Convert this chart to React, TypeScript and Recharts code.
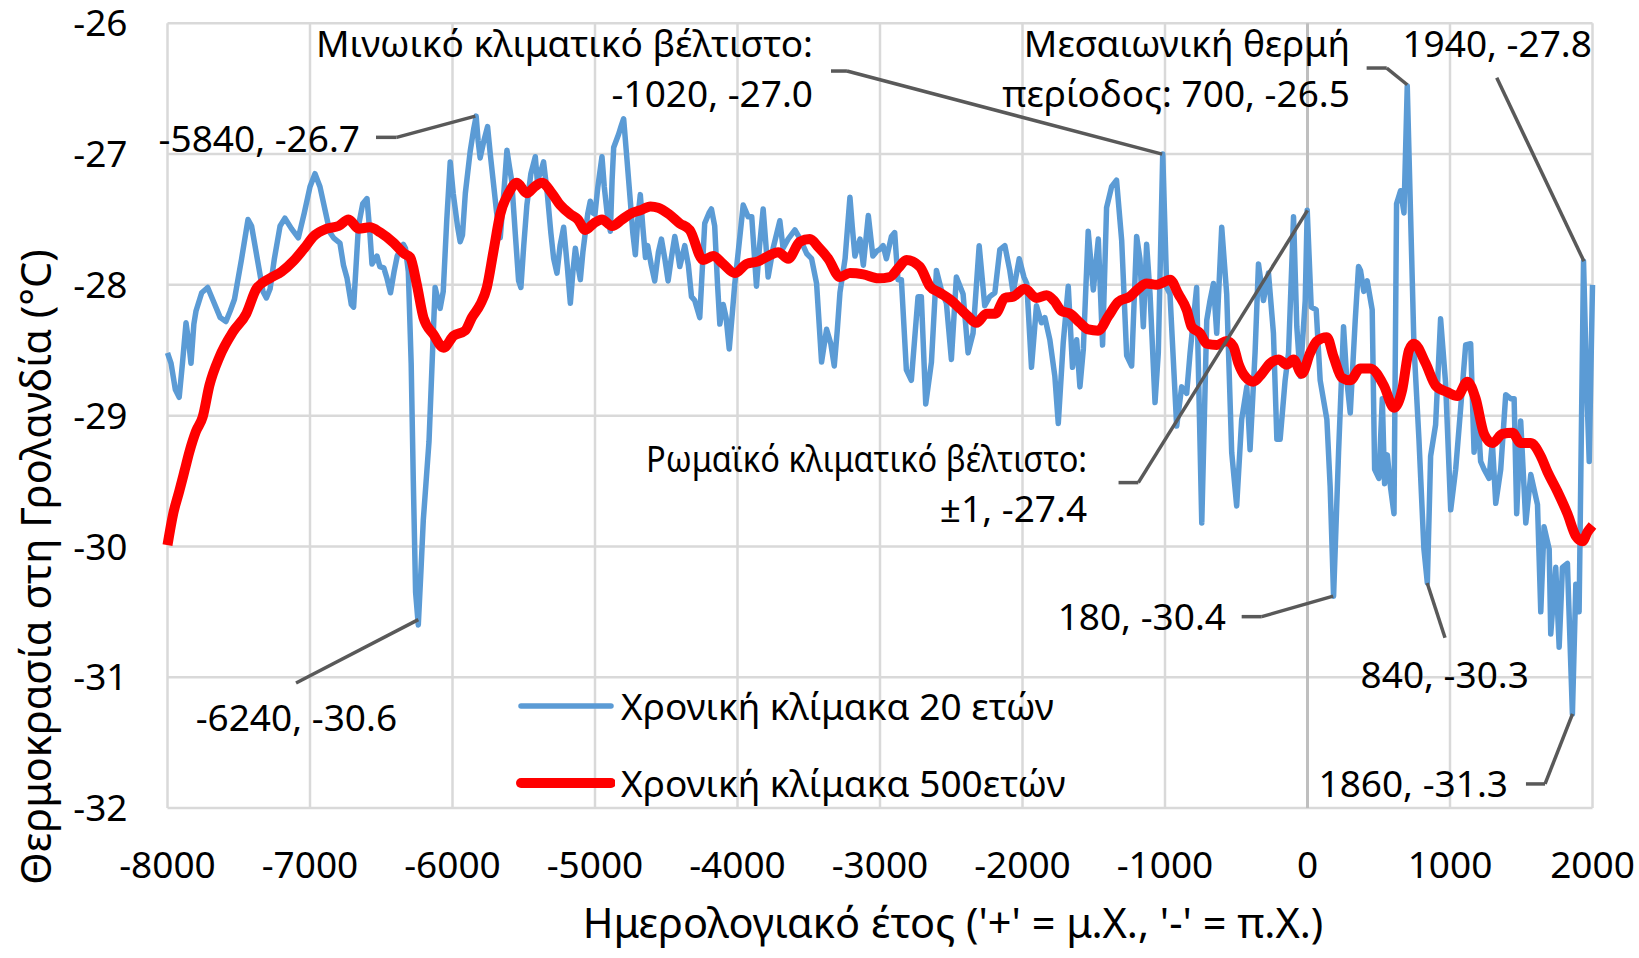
import {
  LineChart,
  Line,
  XAxis,
  YAxis,
  CartesianGrid,
  ReferenceLine,
  ReferenceDot,
  Legend,
} from 'recharts';

const BLUE_20YR: [number, number][] = [
  [-8000, -28.52], [-7975, -28.6], [-7945, -28.8], [-7918, -28.86], [-7895, -28.6], [-7870, -28.29],
  [-7850, -28.45], [-7835, -28.6], [-7815, -28.3], [-7800, -28.2], [-7760, -28.06], [-7718, -28.02],
  [-7680, -28.12], [-7630, -28.25], [-7590, -28.28], [-7560, -28.2], [-7530, -28.11], [-7480, -27.8],
  [-7435, -27.5], [-7410, -27.55], [-7370, -27.8], [-7330, -28.05], [-7306, -28.1], [-7280, -28.03],
  [-7250, -27.8], [-7210, -27.55], [-7176, -27.49], [-7130, -27.57], [-7082, -27.64], [-7040, -27.45],
  [-7000, -27.25], [-6965, -27.15], [-6930, -27.25], [-6890, -27.45], [-6860, -27.6], [-6835, -27.64],
  [-6790, -27.68], [-6765, -27.85], [-6740, -27.95], [-6710, -28.15], [-6694, -28.17], [-6660, -27.55],
  [-6630, -27.38], [-6600, -27.34], [-6580, -27.6], [-6565, -27.84], [-6530, -27.78], [-6510, -27.86],
  [-6482, -27.87], [-6460, -27.95], [-6435, -28.06], [-6410, -27.9], [-6388, -27.78], [-6360, -27.72],
  [-6345, -27.69], [-6330, -27.72], [-6310, -27.9], [-6290, -28.6], [-6275, -29.5], [-6259, -30.35],
  [-6240, -30.6], [-6222, -30.2], [-6205, -29.8], [-6165, -29.2], [-6122, -28.02], [-6105, -28.1],
  [-6087, -28.18], [-6065, -28.05], [-6040, -27.5], [-6016, -27.06], [-5995, -27.3], [-5965, -27.55],
  [-5946, -27.67], [-5930, -27.62], [-5910, -27.3], [-5876, -26.98], [-5850, -26.8], [-5834, -26.71],
  [-5820, -26.9], [-5806, -27.03], [-5780, -26.9], [-5754, -26.79], [-5735, -27.0], [-5712, -27.23],
  [-5690, -27.45], [-5665, -27.64], [-5640, -27.3], [-5618, -26.97], [-5600, -27.1], [-5585, -27.2],
  [-5560, -27.6], [-5536, -27.97], [-5520, -28.02], [-5500, -27.7], [-5478, -27.39], [-5450, -27.15],
  [-5419, -27.02], [-5405, -27.2], [-5385, -27.15], [-5361, -27.06], [-5335, -27.3], [-5310, -27.6],
  [-5290, -27.8], [-5267, -27.91], [-5245, -27.7], [-5220, -27.56], [-5195, -27.85], [-5173, -28.14],
  [-5155, -27.9], [-5138, -27.72], [-5120, -27.85], [-5103, -27.96], [-5085, -27.75], [-5068, -27.6],
  [-5050, -27.45], [-5033, -27.36], [-5015, -27.45], [-5000, -27.46], [-4980, -27.25], [-4951, -27.02],
  [-4935, -27.25], [-4915, -27.45], [-4892, -27.59], [-4880, -27.2], [-4869, -26.95], [-4835, -26.85],
  [-4815, -26.78], [-4799, -26.73], [-4775, -27.05], [-4752, -27.36], [-4735, -27.6], [-4717, -27.77],
  [-4700, -27.5], [-4682, -27.31], [-4665, -27.55], [-4646, -27.79], [-4630, -27.7], [-4605, -27.85],
  [-4581, -27.97], [-4555, -27.75], [-4534, -27.65], [-4510, -27.8], [-4487, -27.97], [-4465, -27.8],
  [-4440, -27.63], [-4420, -27.75], [-4405, -27.86], [-4370, -27.7], [-4345, -27.85], [-4323, -28.09],
  [-4300, -28.12], [-4265, -28.25], [-4230, -27.53], [-4200, -27.45], [-4183, -27.42], [-4160, -27.55],
  [-4140, -28.0], [-4124, -28.3], [-4100, -28.15], [-4080, -28.25], [-4058, -28.49], [-4035, -28.2],
  [-4019, -27.99], [-3995, -27.75], [-3960, -27.39], [-3925, -27.48], [-3900, -27.48], [-3867, -28.01],
  [-3845, -27.7], [-3820, -27.42], [-3800, -27.7], [-3785, -27.94], [-3750, -27.72], [-3703, -27.51],
  [-3680, -27.72], [-3645, -27.65], [-3597, -27.58], [-3560, -27.65], [-3515, -27.76], [-3480, -27.8],
  [-3445, -27.99], [-3410, -28.59], [-3375, -28.34], [-3345, -28.45], [-3321, -28.62], [-3300, -28.35],
  [-3281, -28.06], [-3245, -27.8], [-3211, -27.33], [-3195, -27.55], [-3176, -27.78], [-3140, -27.65],
  [-3117, -27.85], [-3082, -27.47], [-3050, -27.78], [-3020, -27.74], [-3002, -27.73], [-2978, -27.7],
  [-2955, -27.8], [-2920, -27.63], [-2897, -27.6], [-2874, -27.96], [-2850, -27.96], [-2815, -28.65],
  [-2780, -28.73], [-2733, -28.09], [-2710, -28.09], [-2679, -28.91], [-2639, -28.59], [-2604, -27.89],
  [-2569, -28.04], [-2534, -28.14], [-2499, -28.57], [-2464, -27.94], [-2417, -28.07], [-2382, -28.52],
  [-2347, -28.37], [-2304, -27.7], [-2265, -28.16], [-2230, -28.09], [-2194, -28.06], [-2159, -27.73],
  [-2124, -27.7], [-2089, -27.89], [-2066, -28.06], [-2023, -27.8], [-1990, -27.94], [-1970, -27.99],
  [-1937, -28.63], [-1902, -28.16], [-1867, -28.29], [-1843, -28.25], [-1808, -28.42], [-1773, -28.7],
  [-1749, -29.06], [-1714, -28.44], [-1679, -28.01], [-1649, -28.63], [-1620, -28.42], [-1597, -28.78],
  [-1573, -28.49], [-1539, -27.59], [-1503, -28.04], [-1468, -27.65], [-1438, -28.46], [-1410, -27.41],
  [-1375, -27.25], [-1340, -27.2], [-1304, -27.66], [-1269, -28.54], [-1234, -28.62], [-1199, -27.63],
  [-1176, -27.8], [-1152, -28.32], [-1129, -27.69], [-1105, -28.07], [-1070, -28.9], [-1047, -28.52],
  [-1016, -27.0], [-988, -28.02], [-965, -28.07], [-918, -29.08], [-883, -28.78], [-848, -28.83],
  [-824, -28.52], [-778, -28.02], [-742, -29.82], [-707, -28.27], [-684, -28.12], [-660, -27.99],
  [-637, -28.37], [-602, -27.56], [-567, -28.07], [-532, -29.28], [-497, -29.69], [-462, -29.03],
  [-426, -28.78], [-403, -29.26], [-368, -28.52], [-344, -27.84], [-309, -28.12], [-274, -27.91],
  [-239, -28.37], [-215, -29.18], [-192, -29.18], [-157, -28.73], [-133, -28.52], [-98, -27.48],
  [-75, -28.32], [-51, -28.7], [-16, -28.12], [-2, -27.43], [26, -28.17], [61, -28.19],
  [89, -28.73], [136, -29.03], [159, -29.54], [183, -30.38], [218, -29.28], [253, -28.32],
  [276, -28.73], [300, -28.98], [335, -28.27], [358, -27.86], [372, -27.89], [395, -28.05],
  [419, -27.97], [454, -28.19], [471, -29.41], [501, -29.48], [525, -28.87], [541, -29.52],
  [560, -29.3], [583, -29.55], [607, -29.75], [625, -27.38], [653, -27.28], [677, -27.45],
  [700, -26.48], [723, -27.45], [747, -28.46], [782, -29.18], [817, -30.02], [841, -30.28],
  [864, -29.31], [899, -29.07], [934, -28.26], [969, -28.75], [1005, -29.72], [1040, -29.41],
  [1075, -28.94], [1110, -28.46], [1145, -28.45], [1169, -29.28], [1192, -28.94], [1215, -29.35],
  [1239, -29.41], [1274, -29.48], [1297, -29.2], [1321, -29.67], [1356, -29.41], [1391, -28.84],
  [1426, -28.87], [1450, -28.87], [1468, -29.75], [1496, -29.04], [1532, -29.82], [1567, -29.45],
  [1614, -29.68], [1637, -30.5], [1660, -29.85], [1696, -30.02], [1707, -30.67], [1742, -30.16],
  [1766, -30.77], [1789, -30.16], [1824, -30.13], [1859, -31.28], [1883, -30.29], [1906, -30.5],
  [1937, -27.82], [1960, -28.8], [1977, -29.35], [2000, -28.0],
];

const RED_500YR: [number, number][] = [
  [-8000, -29.99], [-7960, -29.75], [-7918, -29.58], [-7880, -29.42], [-7847, -29.28], [-7800, -29.12],
  [-7753, -29.01], [-7706, -28.77], [-7635, -28.55], [-7541, -28.36], [-7447, -28.22], [-7376, -28.03],
  [-7282, -27.95], [-7200, -27.9], [-7118, -27.82], [-7040, -27.72], [-6976, -27.63], [-6882, -27.57],
  [-6800, -27.55], [-6729, -27.5], [-6659, -27.57], [-6580, -27.56], [-6506, -27.6], [-6412, -27.68],
  [-6340, -27.76], [-6297, -27.79], [-6250, -28.0], [-6204, -28.25], [-6133, -28.38], [-6063, -28.48],
  [-5993, -28.39], [-5911, -28.35], [-5864, -28.25], [-5805, -28.15], [-5759, -28.02], [-5712, -27.74],
  [-5665, -27.46], [-5607, -27.3], [-5548, -27.22], [-5478, -27.3], [-5425, -27.25], [-5372, -27.22],
  [-5302, -27.3], [-5244, -27.39], [-5173, -27.46], [-5120, -27.5], [-5068, -27.58], [-5009, -27.53],
  [-4951, -27.5], [-4880, -27.55], [-4810, -27.5], [-4740, -27.45], [-4682, -27.43], [-4611, -27.4],
  [-4557, -27.41], [-4480, -27.46], [-4405, -27.53], [-4335, -27.58], [-4241, -27.81], [-4171, -27.78],
  [-4101, -27.84], [-4019, -27.91], [-3937, -27.84], [-3855, -27.82], [-3785, -27.78], [-3714, -27.75],
  [-3644, -27.8], [-3562, -27.67], [-3492, -27.65], [-3433, -27.71], [-3363, -27.8], [-3281, -27.94],
  [-3211, -27.91], [-3117, -27.92], [-3012, -27.95], [-2932, -27.94], [-2870, -27.87], [-2815, -27.81],
  [-2721, -27.86], [-2651, -28.01], [-2581, -28.06], [-2511, -28.11], [-2440, -28.18], [-2382, -28.24],
  [-2323, -28.29], [-2253, -28.22], [-2190, -28.22], [-2124, -28.1], [-2066, -28.09], [-1984, -28.03],
  [-1902, -28.1], [-1831, -28.08], [-1780, -28.12], [-1726, -28.2], [-1667, -28.22], [-1597, -28.29],
  [-1539, -28.34], [-1468, -28.35], [-1398, -28.24], [-1328, -28.13], [-1246, -28.09], [-1187, -28.03],
  [-1129, -27.99], [-1059, -28.0], [-1010, -27.98], [-965, -27.96], [-906, -28.07], [-848, -28.19],
  [-813, -28.32], [-754, -28.37], [-707, -28.45], [-637, -28.46], [-567, -28.43], [-520, -28.47],
  [-485, -28.6], [-438, -28.7], [-379, -28.74], [-321, -28.68], [-262, -28.6], [-204, -28.57],
  [-145, -28.61], [-98, -28.57], [-40, -28.68], [19, -28.52], [66, -28.43], [136, -28.4],
  [183, -28.55], [241, -28.71], [300, -28.73], [370, -28.64], [440, -28.64], [536, -28.77],
  [607, -28.94], [665, -28.8], [712, -28.5], [747, -28.45], [829, -28.6], [899, -28.77],
  [981, -28.82], [1052, -28.85], [1122, -28.74], [1180, -28.87], [1239, -29.14], [1297, -29.21],
  [1368, -29.14], [1438, -29.13], [1496, -29.21], [1567, -29.21], [1637, -29.31], [1684, -29.43],
  [1754, -29.58], [1824, -29.75], [1883, -29.92], [1930, -29.96], [1965, -29.89], [2000, -29.84],
];

const X_TICKS = [-8000, -7000, -6000, -5000, -4000, -3000, -2000, -1000, 0, 1000, 2000];
const Y_TICKS = [-32, -31, -30, -29, -28, -27, -26];

const SERIES_NAMES = ['Χρονική κλίμακα 20 ετών', 'Χρονική κλίμακα 500ετών'];

// callout text (anchored at its right end / first baseline) and leader polyline, in data units
const CALLOUTS: { lines: string[]; at: [number, number]; leader: [number, number][] }[] = [
  { lines: ['Μινωικό κλιματικό βέλτιστο:', '-1020, -27.0'], at: [-3470, -26.258], leader: [[-3344, -26.365], [-3232, -26.365], [-1020, -27.0]] },
  { lines: ['Μεσαιωνική θερμή', 'περίοδος: 700, -26.5'], at: [298, -26.258], leader: [[415, -26.342], [556, -26.342], [700, -26.47]] },
  { lines: ['1940, -27.8'], at: [1996, -26.258], leader: [[1328, -26.417], [1940, -27.82]] },
  { lines: ['Ρωμαϊκό κλιματικό βέλτιστο:', '±1, -27.4'], at: [-1547, -29.43], leader: [[-1326, -29.512], [-1187, -29.512], [0, -27.43]] },
  { lines: ['180, -30.4'], at: [-572, -30.638], leader: [[-462, -30.537], [-321, -30.537], [180, -30.38]] },
  { lines: ['840, -30.3'], at: [1554, -31.082], leader: [[840, -30.28], [965, -30.698]] },
  { lines: ['1860, -31.3'], at: [1407, -31.915], leader: [[1533, -31.816], [1667, -31.816], [1860, -31.28]] },
  { lines: ['-6240, -30.6'], at: [-6389, -31.411], leader: [[-7098, -31.044], [-6240, -30.56]] },
  { lines: ['-5840, -26.7'], at: [-6649, -26.984], leader: [[-6537, -26.872], [-6392, -26.872], [-5840, -26.71]] },
];

const FONT = '"Noto Sans", sans-serif';
const FS = 37;
const TITLE_FS = 41.5;
const BLUE = '#5b9bd5';
const RED = '#ff0000';
const LEADER = '#595959';

// the Roman-optimum heading is set tighter in the original
const SQUEEZE: Record<string, number> = { 'Ρωμαϊκό κλιματικό βέλτιστο:': 441 };

const blueData = BLUE_20YR.map(([year, temp]) => ({ year, temp }));
const redData = RED_500YR.map(([year, temp]) => ({ year, temp }));

function CalloutText({ cx, cy, lines }: { cx?: number; cy?: number; lines: string[] }) {
  if (cx === undefined || cy === undefined) return null;
  return (
    <g>
      {lines.map((l, i) => (
        <text
          key={i}
          x={cx}
          y={cy + i * 50}
          textAnchor="end"
          fontFamily={FONT}
          fontSize={FS}
          fill="#000"
          textLength={SQUEEZE[l]}
          lengthAdjust={SQUEEZE[l] ? 'spacingAndGlyphs' : undefined}
        >
          {l}
        </text>
      ))}
    </g>
  );
}

function LegendBox() {
  const widths = [5.5, 10];
  const colors = [BLUE, RED];
  return (
    <div style={{ fontFamily: FONT, fontSize: FS, color: '#000' }}>
      {SERIES_NAMES.map((name, i) => (
        <div key={name} style={{ display: 'flex', alignItems: 'center', height: 77, whiteSpace: 'nowrap' }}>
          <svg width={100} height={20} style={{ marginRight: 6 }}>
            <line x1={6} y1={10} x2={96} y2={10} stroke={colors[i]} strokeWidth={widths[i]} strokeLinecap="round" />
          </svg>
          <span>{name}</span>
        </div>
      ))}
    </div>
  );
}

export default function App() {
  return (
    <div style={{ position: 'relative', width: 1639, height: 958, background: '#fff' }}>
      <style>{'body{margin:0}'}</style>
      <LineChart width={1639} height={958} margin={{ top: 23.3, right: 46.5, bottom: 100, left: 0 }}>
        <CartesianGrid stroke="#d9d9d9" strokeWidth={2.5} />
        <XAxis
          type="number"
          dataKey="year"
          domain={[-8000, 2000]}
          ticks={X_TICKS}
          interval={0}
          axisLine={false}
          tickLine={false}
          tickSize={0}
          tickMargin={44}
          height={50}
          tick={{ fontFamily: FONT, fontSize: FS, fill: '#000' }}
        />
        <YAxis
          type="number"
          domain={[-32, -26]}
          ticks={Y_TICKS}
          interval={0}
          axisLine={false}
          tickLine={false}
          tickSize={0}
          tickMargin={40}
          width={167.5}
          tick={{ fontFamily: FONT, fontSize: FS, fill: '#000' }}
        />
        <ReferenceLine x={0} stroke="#bfbfbf" strokeWidth={3} />
        <Legend
          layout="horizontal"
          verticalAlign="middle"
          align="center"
          content={() => <LegendBox />}
          wrapperStyle={{ left: 515, top: 667, width: 600, height: 154 }}
        />
        <Line
          data={blueData}
          dataKey="temp"
          name={SERIES_NAMES[0]}
          type="linear"
          stroke={BLUE}
          strokeWidth={5.5}
          strokeLinejoin="round"
          dot={false}
          activeDot={false}
          isAnimationActive={false}
        />
        <Line
          data={redData}
          dataKey="temp"
          name={SERIES_NAMES[1]}
          type="monotone"
          stroke={RED}
          strokeWidth={10}
          strokeLinejoin="round"
          dot={false}
          activeDot={false}
          isAnimationActive={false}
        />
        {CALLOUTS.flatMap((c, ci) =>
          c.leader.slice(1).map((p, i) => (
            <ReferenceLine
              key={`l${ci}-${i}`}
              segment={[
                { x: c.leader[i][0], y: c.leader[i][1] },
                { x: p[0], y: p[1] },
              ]}
              stroke={LEADER}
              strokeWidth={3.5}
              ifOverflow="visible"
            />
          ))
        )}
        {CALLOUTS.map((c, ci) => (
          <ReferenceDot
            key={`t${ci}`}
            x={c.at[0]}
            y={c.at[1]}
            r={1}
            ifOverflow="visible"
            shape={(p: any) => <CalloutText cx={p.cx} cy={p.cy} lines={c.lines} />}
          />
        ))}
      </LineChart>
      <svg
        width={1639}
        height={958}
        style={{ position: 'absolute', left: 0, top: 0, pointerEvents: 'none' }}
      >
        <text
          x={0}
          y={0}
          transform="translate(51 567) rotate(-90)"
          textAnchor="middle"
          fontFamily={FONT}
          fontSize={TITLE_FS}
          fill="#000"
        >
          Θερμοκρασία στη Γρολανδία (°C)
        </text>
        <text x={953} y={938} textAnchor="middle" fontFamily={FONT} fontSize={TITLE_FS} fill="#000">
          Ημερολογιακό έτος ('+' = μ.Χ., '-' = π.Χ.)
        </text>
      </svg>
    </div>
  );
}
